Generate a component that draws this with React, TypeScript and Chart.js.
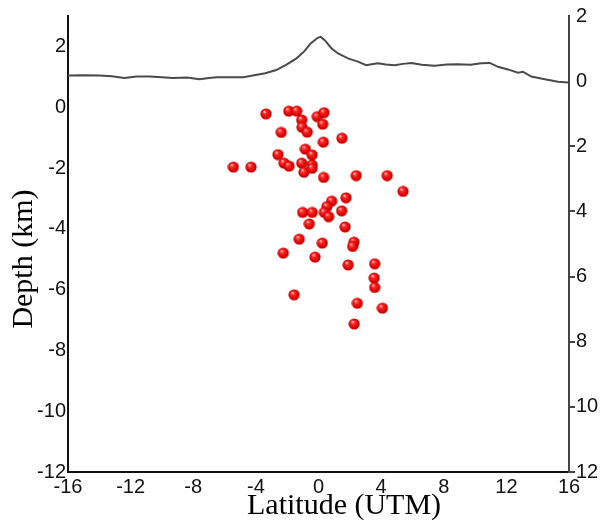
import React, { useEffect, useRef } from "react";
import { Chart, registerables } from "chart.js";

Chart.register(...registerables);

// Earthquake hypocentres (latitude UTM km, depth km)
const quakeLatitude = [
  -3.35, -1.9, -1.39, -1.07, -0.08, 0.35, -1.05, -0.72, -2.38, 0.27,
  1.5, 0.31, -0.84, -0.41, -2.59, -2.2, -1.88, -1.07, -0.41, -0.93,
  -0.41, -5.44, -4.31, 0.33, 2.41, 4.39, 5.4, 0.84, 0.54, 1.76,
  -1.01, -0.4, 0.37, 0.65, 1.48, -0.59, 1.7, -1.23, 0.24, 2.27,
  2.18, -2.25, -0.22, 1.9, 3.59, 3.56, 3.59, -1.56, 2.48, 4.08,
  2.28,
];
const quakeDepth = [
  -0.22, -0.13, -0.13, -0.42, -0.31, -0.18, -0.66, -0.82, -0.83, -0.56,
  -1.02, -1.15, -1.38, -1.57, -1.56, -1.84, -1.94, -1.84, -1.9, -2.14,
  -2.01, -1.97, -1.97, -2.31, -2.25, -2.25, -2.77, -3.09, -3.27, -2.98,
  -3.46, -3.46, -3.46, -3.6, -3.41, -3.84, -3.94, -4.34, -4.47, -4.44,
  -4.58, -4.8, -4.93, -5.19, -5.15, -5.62, -5.93, -6.17, -6.45, -6.61,
  -7.13,
];

// Topographic profile (latitude UTM km, elevation km)
const topoLatitude = [
  -16, -15, -14, -13.2, -12.4, -11.6, -10.8, -10, -9.3, -8.4,
  -7.6, -7.0, -6.5, -5.7, -4.8, -4.2, -3.4, -2.7, -2.1, -1.4,
  -0.9, -0.5, -0.05, 0.14, 0.4, 0.82, 1.25, 1.88, 2.52, 3.05,
  3.4, 3.8, 4.3, 4.87, 5.4, 5.93, 6.6, 7.42, 8.2, 8.91,
  9.7, 10.4, 10.94, 11.47, 12.1, 12.74, 13.06, 13.59, 14.45, 15.3,
  15.94,
];
const topoElevation = [
  0.17, 0.18, 0.17, 0.15, 0.1, 0.14, 0.14, 0.12, 0.1, 0.11,
  0.06, 0.1, 0.12, 0.12, 0.12, 0.17, 0.24, 0.34, 0.49, 0.7,
  0.92, 1.16, 1.33, 1.36, 1.26, 1.01, 0.85, 0.7, 0.6, 0.49,
  0.52, 0.55, 0.51, 0.49, 0.53, 0.56, 0.5, 0.47, 0.51, 0.52,
  0.5, 0.55, 0.56, 0.44, 0.36, 0.26, 0.29, 0.14, 0.06, -0.02,
  -0.04,
];

const xMin = -16;
const xMax = 16;
const depthMin = -12;
const depthMax = 3;
const elevMin = -12;
const elevMax = 2;
const tickStep = 2;

const X_TITLE = "Latitude (UTM)";
const Y_TITLE = "Depth (km)";

const TICK_FONT = { family: '"Liberation Sans", Arial, sans-serif', size: 20 };

function makeSphere(): HTMLCanvasElement {
  const size = 12;
  const c = document.createElement("canvas");
  c.width = size;
  c.height = size;
  const g = c.getContext("2d")!;
  const grad = g.createRadialGradient(4.3, 3.8, 0.5, 6, 6, 6);
  grad.addColorStop(0, "#ffb0b0");
  grad.addColorStop(0.25, "#ff2a2a");
  grad.addColorStop(0.7, "#e00000");
  grad.addColorStop(1, "#a80000");
  g.fillStyle = grad;
  g.beginPath();
  g.arc(6, 6, 5.6, 0, Math.PI * 2);
  g.fill();
  return c;
}

const titlePlugin = {
  id: "axisTitles",
  afterDraw(chart: any) {
    const { ctx, chartArea } = chart;
    ctx.save();
    ctx.fillStyle = "#000";
    ctx.font = '30px "Liberation Serif", "Times New Roman", serif';
    ctx.textAlign = "center";
    ctx.textBaseline = "middle";
    const w = chartArea.right - chartArea.left;
    const h = chartArea.bottom - chartArea.top;
    ctx.fillText(X_TITLE, chartArea.left + w * 0.551, chart.height - 23);
    ctx.translate(24, chartArea.top + h * 0.533);
    ctx.rotate(-Math.PI / 2);
    ctx.fillText(Y_TITLE, 0, 0);
    ctx.restore();
  },
};

export default function App() {
  const ref = useRef<HTMLCanvasElement>(null);

  useEffect(() => {
    if (!ref.current) return;
    const sphere = makeSphere();
    const quakes = quakeLatitude.map((x, i) => ({ x, y: quakeDepth[i] }));
    const topo = topoLatitude.map((x, i) => ({ x, y: topoElevation[i] }));

    const chart = new Chart(ref.current, {
      type: "scatter",
      data: {
        datasets: [
          {
            type: "line",
            data: topo,
            yAxisID: "y2",
            borderColor: "#4a4a4a",
            borderWidth: 2,
            pointRadius: 0,
            tension: 0,
            showLine: true,
          } as any,
          {
            data: quakes,
            yAxisID: "y",
            pointStyle: sphere as any,
            pointRadius: 6,
            showLine: false,
          },
        ],
      },
      options: {
        animation: false,
        responsive: false,
        maintainAspectRatio: false,
        layout: { padding: { top: 16, left: 0, right: 0, bottom: 0 } },
        plugins: {
          legend: { display: false },
          tooltip: { enabled: false },
        },
        scales: {
          x: {
            type: "linear",
            min: xMin,
            max: xMax,
            ticks: { stepSize: 4, color: "#111", font: TICK_FONT, padding: 3, maxRotation: 0 },
            grid: { display: false, drawTicks: false },
            border: { display: true, color: "#111", width: 2 },
            afterFit: (s: any) => {
              s.height = 57;
            },
          },
          y: {
            type: "linear",
            position: "left",
            min: depthMin,
            max: depthMax,
            ticks: { stepSize: tickStep, includeBounds: false, color: "#111", font: TICK_FONT, padding: 2 },
            grid: { display: false, drawTicks: false },
            border: { display: true, color: "#111", width: 2 },
            afterFit: (s: any) => {
              s.width = 68;
            },
          },
          y2: {
            type: "linear",
            position: "right",
            min: elevMin,
            max: elevMax,
            ticks: {
              stepSize: tickStep,
              color: "#111",
              font: TICK_FONT,
              padding: 1,
              callback: (v: any) => String(Math.abs(Number(v))),
            },
            grid: {
              display: true,
              drawOnChartArea: false,
              drawTicks: true,
              tickLength: 6,
              lineWidth: 2,
              color: (c: any) => (c.tick && c.tick.value >= 0 ? "rgba(0,0,0,0)" : "#444"),
            },
            border: { display: true, color: "#444", width: 2 },
            afterFit: (s: any) => {
              s.width = 36;
            },
          },
        },
      },
      plugins: [titlePlugin],
    });
    return () => chart.destroy();
  }, []);

  return (
    <div style={{ position: "absolute", left: 0, top: 0, width: 605, height: 529, background: "#fff" }}>
      <canvas ref={ref} width={605} height={529} />
    </div>
  );
}
